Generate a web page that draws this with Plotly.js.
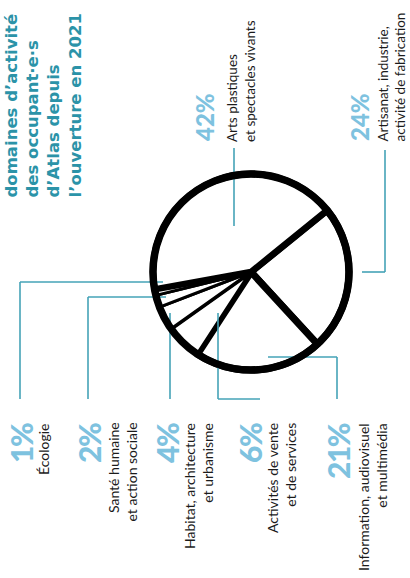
<!DOCTYPE html>
<html><head><meta charset="utf-8">
<script src="https://cdn.plot.ly/plotly-3.0.1.min.js"></script>
<style>html,body{margin:0;padding:0;background:#fff}#chart{width:410px;height:578px}</style>
</head><body><div id="chart"></div>
<script>
// ---- data ----
const categories = [
  "Artisanat, industrie, activité de fabrication",
  "Information, audiovisuel et multimédia",
  "Activités de vente et de services",
  "Habitat, architecture et urbanisme",
  "Santé humaine et action sociale",
  "Écologie",
  "Arts plastiques et spectacles vivants"
];
const shares = [24, 21, 6, 4, 2, 1, 42];
const pctLabels = ["24%", "21%", "6%", "4%", "2%", "1%", "42%"];
const labelText = [
  "Artisanat, industrie,<br>activité de fabrication",
  "Information, audiovisuel<br>et multimédia",
  "Activités de vente<br>et de services",
  "Habitat, architecture<br>et urbanisme",
  "Santé humaine<br>et action sociale",
  "Écologie",
  "Arts plastiques<br>et spectacles vivants"
];
const titleLines = ["domaines d’activité", "des occupant·e·s", "d’Atlas depuis", "l’ouverture en 2021"];

// ---- layout helpers ----
const W = 410, H = 578;
const px = x => x / W, py = y => 1 - y / H;
const TEAL = "#2b93a8", LINE = "#45a3b7", PCT = "#7ec2df", INK = "#1b1b1b";
const FONT = "Lato, 'Open Sans', sans-serif";
const TFONT = "'DejaVu Sans', Verdana, sans-serif";

// placement per category (index-aligned)
const place = [
  {px: 359, lx: 391, top: true},
  {px: 338, lx: 373, top: false},
  {px: 250, lx: 282, top: false},
  {px: 167, lx: 199, top: false},
  {px: 89,  lx: 122, top: false},
  {px: 21,  lx: 44,  top: false},
  {px: 204, lx: 241, top: true}
];

const annotations = [];
categories.forEach((c, i) => {
  const p = place[i];
  const ya = p.top ? "bottom" : "top";
  const pctText = p.top ? pctLabels[i] : '<span style="letter-spacing:-1.5px">' + pctLabels[i] + '</span>';
  annotations.push({xref: "paper", yref: "paper", x: px(p.px), y: py(p.top ? 143 : 421), xanchor: "center", yanchor: ya,
    text: pctText, textangle: -90, showarrow: false,
    font: {family: FONT, size: p.top ? 24 : 30, color: PCT, weight: 900}});
  annotations.push({xref: "paper", yref: "paper", x: px(p.lx), y: py(p.top ? 144 : 421), xanchor: "center", yanchor: ya,
    text: labelText[i], textangle: -90, showarrow: false, align: p.top ? "left" : "right",
    font: {family: FONT, size: p.top ? 13.5 : 14, color: INK}});
});
annotations.push({xref: "paper", yref: "paper", x: px(0), y: py(200), xanchor: "left", yanchor: "bottom",
  text: titleLines.join("<br>"), textangle: -90, showarrow: false, align: "left",
  font: {family: TFONT, size: 16.5, color: TEAL, weight: 700}});

// leader lines (pixel paths)
const paths = [
  [[20, 399], [20, 282], [163, 282]],
  [[88, 399], [88, 297], [166, 297]],
  [[170, 399], [170, 313]],
  [[260, 399], [218, 399], [218, 313]],
  [[337, 399], [337, 357], [268, 357]],
  [[234, 148], [234, 226]],
  [[385, 150], [385, 272], [362, 272]]
];
const cx = 251, cy = 272, r = 98;
const shapes = [];
paths.forEach(pts => {
  for (let k = 0; k < pts.length - 1; k++) {
    shapes.push({type: "line", xref: "paper", yref: "paper",
      x0: px(pts[k][0]), y0: py(pts[k][1]), x1: px(pts[k+1][0]), y1: py(pts[k+1][1]),
      line: {color: LINE, width: 1.6}});
  }
});
// thick hand-drawn-like outer ring
shapes.push({type: "circle", xref: "paper", yref: "paper",
  x0: px(cx - r), x1: px(cx + r), y0: py(cy + r), y1: py(cy - r),
  line: {color: "#000000", width: 7.5}, fillcolor: "rgba(0,0,0,0)"});

const trace = {
  type: "pie", labels: categories, values: shares, sort: false, direction: "clockwise", rotation: 51,
  textinfo: "none", hoverinfo: "none", showlegend: false,
  marker: {colors: categories.map(() => "#ffffff"),
           line: {color: "#000000", width: [7, 7, 4, 3, 3, 3, 6.5]}},
  domain: {x: [px(cx - r), px(cx + r)], y: [py(cy + r), py(cy - r)]}
};

Plotly.newPlot("chart", [trace], {
  width: W, height: H, margin: {l: 0, r: 0, t: 0, b: 0},
  paper_bgcolor: "#ffffff", plot_bgcolor: "#ffffff",
  annotations, shapes
}, {displayModeBar: false, staticPlot: true});
</script></body></html>
